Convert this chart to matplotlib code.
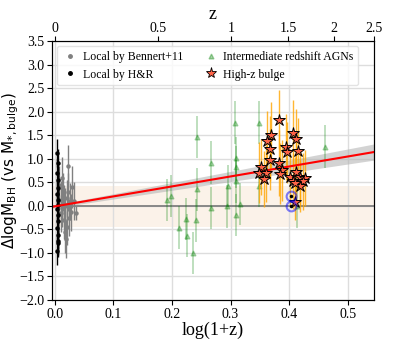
import numpy as np
import matplotlib
matplotlib.use("Agg")
import matplotlib.pyplot as plt
from matplotlib.lines import Line2D

plt.rcParams['font.family'] = ['Liberation Serif', 'DejaVu Serif']
plt.rcParams['mathtext.fontset'] = 'dejavusans'

# Local sample, Bennert+11 (grey)
ben_x = [0.008, 0.010, 0.011, 0.012, 0.014, 0.015, 0.016, 0.017, 0.018, 0.020, 0.020,
         0.022, 0.023, 0.024, 0.026, 0.027, 0.029, 0.032, 0.036, 0.013, 0.019]
ben_y = [0.45, 0.13, -0.16, 0.60, 0.30, -0.30, 0.05, -0.01, -0.55, 0.16, -0.44,
         0.85, 0.30, -0.25, 0.09, -0.14, 0.40, 0.10, -0.16, -0.05, -0.70]
ben_err = [0.40, 0.40, 0.40, 0.45, 0.40, 0.40, 0.40, 0.40, 0.45, 0.40, 0.40,
           0.45, 0.40, 0.40, 0.40, 0.40, 0.45, 0.40, 0.15, 0.40, 0.40]

# Local sample, H&R (black)
hr_x = [0.004, 0.005, 0.004, 0.006, 0.005, 0.004, 0.006, 0.005, 0.004, 0.005,
        0.006, 0.004, 0.005, 0.006, 0.005, 0.004]
hr_y = [1.13, 0.91, 0.69, 0.55, 0.38, 0.25, 0.13, 0.02, -0.07, -0.19,
        -0.33, -0.47, -0.62, -0.74, -0.79, -0.95]
hr_err = [0.30, 0.30, 0.30, 0.30, 0.30, 0.30, 0.30, 0.30, 0.30, 0.30,
          0.30, 0.30, 0.30, 0.30, 0.30, 0.30]

# Intermediate redshift AGNs (green)
agn_x = [0.191, 0.198, 0.212, 0.224, 0.226, 0.236, 0.242, 0.242, 0.241, 0.266, 0.267,
         0.294, 0.296, 0.307, 0.309, 0.310, 0.310, 0.310, 0.316, 0.349, 0.348, 0.414, 0.462]
agn_y = [0.13, 0.21, -0.46, -0.28, -0.63, -1.00, 1.46, 0.35, -0.31, 0.92, -0.04,
         -0.01, 0.42, 1.77, 1.01, 0.83, 0.52, -0.19, 0.04, 1.77, 0.42, -0.01, 1.26]
agn_err = [0.45, 0.45, 0.45, 0.45, 0.45, 0.45, 0.45, 0.45, 0.45, 0.45, 0.45,
           0.45, 0.45, 0.45, 0.45, 0.45, 0.45, 0.45, 0.45, 0.45, 0.45, 0.45, 0.45]

# High-z bulges (stars)
hz_x = [0.383, 0.369, 0.363, 0.367, 0.367, 0.352, 0.349, 0.361, 0.357, 0.382, 0.388,
        0.384, 0.394, 0.396, 0.407, 0.412, 0.416, 0.401, 0.407, 0.412, 0.418, 0.427,
        0.424, 0.418, 0.410, 0.410]
hz_y = [1.83, 1.51, 1.37, 1.22, 0.98, 0.83, 0.71, 0.69, 0.57, 0.91, 0.76,
        0.68, 1.26, 1.14, 1.56, 1.42, 1.17, 0.62, 0.53, 0.73, 0.62, 0.59,
        0.52, 0.42, 0.48, 0.09]
hz_err = [0.63, 0.70, 0.65, 0.70, 0.65, 0.60, 0.65, 0.60, 0.60, 0.70, 0.65,
          0.65, 0.70, 0.65, 0.70, 0.65, 0.70, 0.60, 0.60, 0.65, 0.60, 0.60,
          0.60, 0.55, 0.55, 0.40]

# two bulges marked with open blue circles
circ_x = [0.403, 0.403]
circ_y = [0.20, 0.00]

# fitted evolution: slope, intercept and half-width of the band
fit_slope = 2.12
fit_icpt = -0.01
fit_band0 = 0.03
fit_band1 = 0.26

# top axis redshift ticks
z_ticks = [0, 0.5, 1, 1.5, 2, 2.5]
z_labels = ['0', '0.5', '1', '1.5', '2', '2.5']

fig, ax = plt.subplots(figsize=(4.15, 3.44), dpi=100)
fig.subplots_adjust(left=0.125, right=0.9, bottom=0.128, top=0.88)

xlim = (-0.005, np.log10(3.5))
ax.set_xlim(xlim)
ax.set_ylim(-2.0, 3.5)

ax.grid(True, color='#dddddd', linewidth=1.0, zorder=0)
ax.axhspan(-0.44, 0.42, color='#f5dfc8', alpha=0.4, lw=0, zorder=1)
ax.axhline(0, color='gray', lw=1.3, zorder=2)

xx = np.linspace(xlim[0], xlim[1], 100)
yy = fit_slope * xx + fit_icpt
hw = fit_band0 + fit_band1 * xx
ax.fill_between(xx, yy - hw, yy + hw, color='#b0b0b0', alpha=0.55, lw=0, zorder=2)
ax.plot(xx, yy, color='red', lw=1.5, zorder=6)

ax.errorbar(ben_x, ben_y, yerr=ben_err, fmt='o', ms=2.2, color='gray',
            ecolor='gray', elinewidth=1.0, zorder=3)
ax.errorbar(hr_x, hr_y, yerr=hr_err, fmt='o', ms=2.2, color='black',
            ecolor='black', elinewidth=1.0, zorder=4)
ax.errorbar(agn_x, agn_y, yerr=agn_err, fmt='^', ms=3.5, color='green', alpha=0.3,
            ecolor='green', elinewidth=1.2, zorder=3)
ax.errorbar(hz_x, hz_y, yerr=hz_err, fmt='none', ecolor='orange', elinewidth=1.0,
            alpha=0.8, zorder=4)
ax.plot(hz_x, hz_y, '*', ms=9, mfc='tomato', mec='black', mew=0.7, zorder=7,
        linestyle='none')
ax.plot(circ_x, circ_y, 'o', ms=7, mfc='none', mec='blue', mew=1.5, alpha=0.5, zorder=7)
ax.plot(circ_x, circ_y, '.', ms=3, color='black', zorder=8)

ax.set_xticks([0.0, 0.1, 0.2, 0.3, 0.4, 0.5])
ax.set_yticks(np.arange(-2.0, 3.51, 0.5))
ax.tick_params(labelsize=10, pad=2)
ax.set_xlabel('log(1+z)', fontsize=13, labelpad=1)
ax.set_ylabel(r'$\rm \Delta logM_{BH}\ (vs\ M_{*,bulge})$', fontsize=11)
ax.yaxis.set_label_coords(-0.097, 0.5)
for s in ax.spines.values():
    s.set_color('#333333')

handles = [
    Line2D([], [], marker='o', ms=2.5, color='gray', ls='none'),
    Line2D([], [], marker='o', ms=2.5, color='black', ls='none'),
    Line2D([], [], marker='^', ms=3.5, color='green', alpha=0.35, ls='none'),
    Line2D([], [], marker='*', ms=8, mfc='tomato', mec='black', mew=0.6, ls='none'),
]
labels = ['Local by Bennert+11', 'Local by H&R', 'Intermediate redshift AGNs', 'High-z bulge']
ax.legend(handles, labels, loc='upper left', ncol=2, fontsize=8.5, frameon=True,
          framealpha=0.8, edgecolor='#dddddd', handletextpad=0.3, columnspacing=1.6,
          handlelength=1.5, borderaxespad=0.4)

ax2 = ax.twiny()
ax2.set_xlim(xlim)
ax2.set_xticks(np.log10(1 + np.array(z_ticks)))
ax2.set_xticklabels(z_labels)
ax2.tick_params(labelsize=10, pad=1)
ax2.set_xlabel('z', fontsize=13, labelpad=2)

fig.savefig('out.png', dpi=100)
